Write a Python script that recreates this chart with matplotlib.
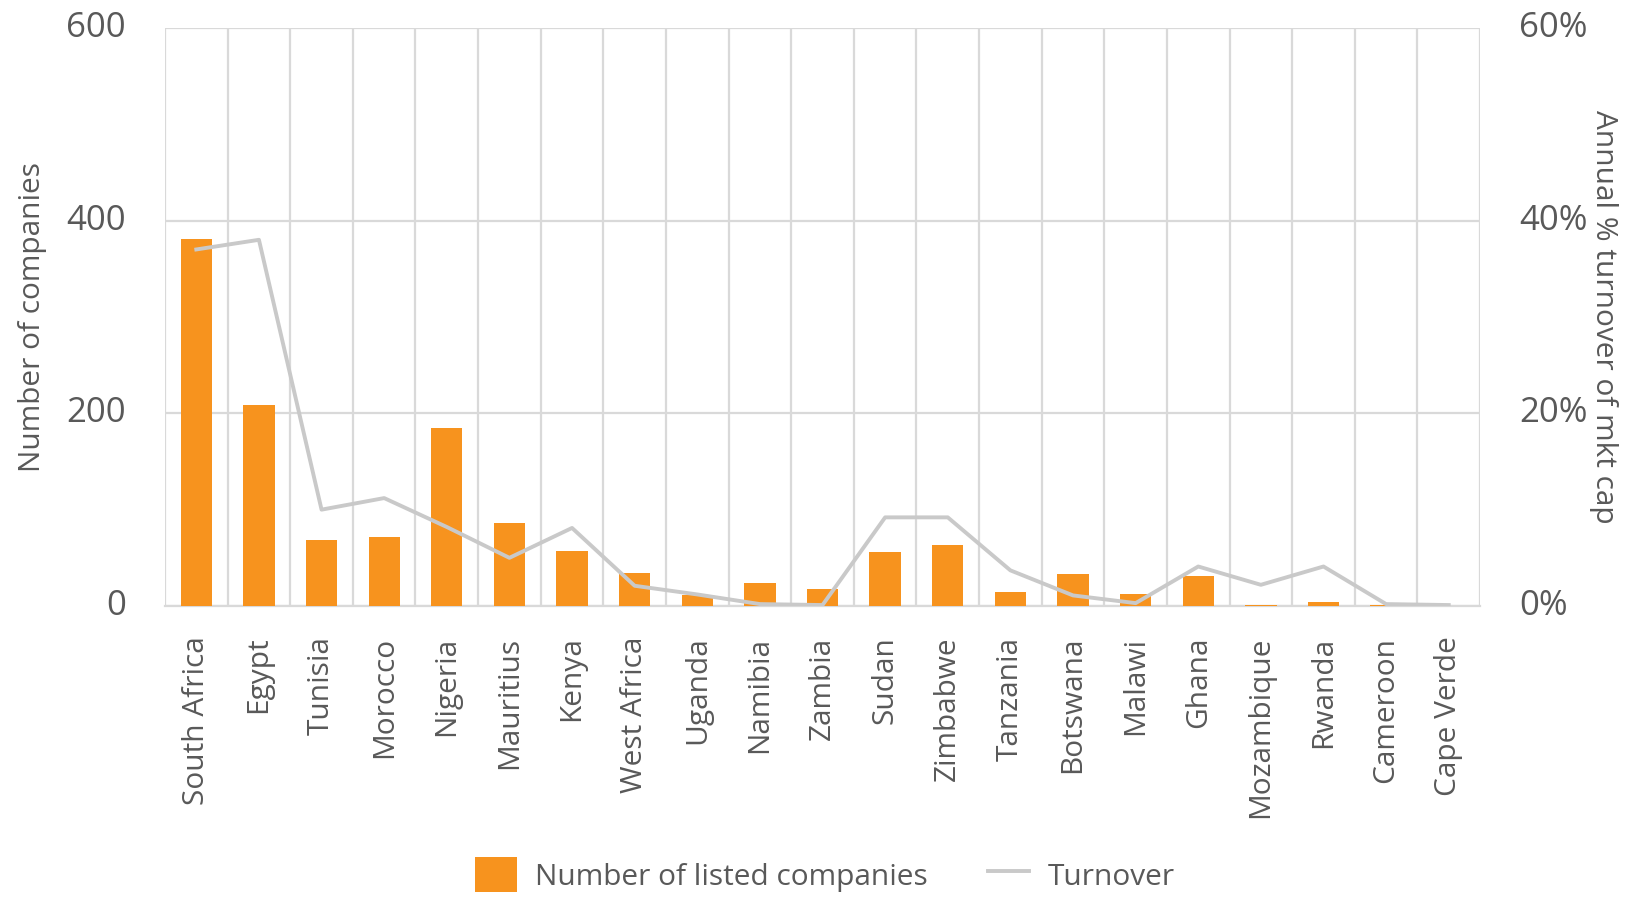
import matplotlib
matplotlib.use("Agg")
import matplotlib.pyplot as plt
import matplotlib.transforms as mtransforms
from matplotlib.ticker import FuncFormatter, FixedLocator
import numpy as np

countries = ["South Africa", "Egypt", "Tunisia", "Morocco", "Nigeria", "Mauritius",
             "Kenya", "West Africa", "Uganda", "Namibia", "Zambia", "Sudan",
             "Zimbabwe", "Tanzania", "Botswana", "Malawi", "Ghana", "Mozambique",
             "Rwanda", "Cameroon", "Cape Verde"]
listed_companies = [381, 209, 69, 72, 185, 86, 57, 34, 11, 24, 18, 56,
                    63, 15, 33, 12, 31, 1, 4, 1, 0]
turnover_pct = [37.0, 38.0, 10.0, 11.2, 8.2, 5.0, 8.1, 2.1, 1.2, 0.2, 0.1, 9.2,
                9.2, 3.7, 1.1, 0.3, 4.1, 2.2, 4.1, 0.2, 0.1]
left_ticks = [0, 200, 400, 600]
right_ticks = [0, 20, 40, 60]

BAR = "#F7931E"
LINE = "#C9C9C9"
GRID = "#D9D9D9"
TXT = "#595959"
FONT = "Open Sans"

plt.rcParams["font.family"] = [FONT, "DejaVu Sans"]

fig = plt.figure(figsize=(16.5, 8.97), dpi=100)
ax = fig.add_axes([0.1, 0.3244, 0.797, 0.6446])
x = np.arange(len(countries))

ax.bar(x, listed_companies, width=0.5, color=BAR, zorder=3,
       label="Number of listed companies")
ax.set_xlim(-0.5, len(countries) - 0.5)
ax.set_ylim(0, 600)
ax.set_yticks(left_ticks)
ax.set_xticks(x)
ax.set_xticklabels(countries, rotation=90, fontsize=21.5, color=TXT)
ax.xaxis.set_minor_locator(FixedLocator(np.arange(-0.5, len(countries), 1.0)))
ax.grid(axis="y", which="major", color=GRID, linewidth=1.6, zorder=0)
ax.grid(axis="x", which="minor", color=GRID, linewidth=1.6, zorder=0)
ax.tick_params(axis="x", which="both", length=0, pad=22)
ax.tick_params(axis="y", length=0, pad=28, labelsize=25, labelcolor=TXT)
for s in ["top", "left", "right"]:
    ax.spines[s].set_visible(False)
ax.spines["bottom"].set_color(GRID)
ax.spines["bottom"].set_linewidth(1.6)
ax.set_ylabel("Number of companies", fontsize=21.5, color=TXT, labelpad=14)

ax2 = ax.twinx()
ax2.plot(x, turnover_pct, color=LINE, linewidth=2.8, zorder=4, label="Turnover")
ax2.set_ylim(0, 60)
ax2.set_yticks(right_ticks)
ax2.yaxis.set_major_formatter(FuncFormatter(lambda v, p: f"{v:.0f}%"))
ax2.tick_params(axis="y", length=0, pad=28, labelsize=25, labelcolor=TXT)
for s in ax2.spines.values():
    s.set_visible(False)
ax2.set_ylabel("Annual % turnover of mkt cap", fontsize=21.5, color=TXT,
               rotation=270, labelpad=22)

# nudge the value labels slightly above their gridlines
lift = mtransforms.ScaledTranslation(0, 4 / 100, fig.dpi_scale_trans)
for lab in ax.get_yticklabels() + ax2.get_yticklabels():
    lab.set_transform(lab.get_transform() + lift)

h1, l1 = ax.get_legend_handles_labels()
h2, l2 = ax2.get_legend_handles_labels()
leg = fig.legend(h1 + h2, l1 + l2, loc="center", bbox_to_anchor=(0.5, 0.025),
                 ncol=2, frameon=False, fontsize=21.5, handlelength=1.4,
                 handleheight=1.4, columnspacing=2.0, handletextpad=0.6)
for t in leg.get_texts():
    t.set_color(TXT)

fig.savefig("out.png", dpi=100)
